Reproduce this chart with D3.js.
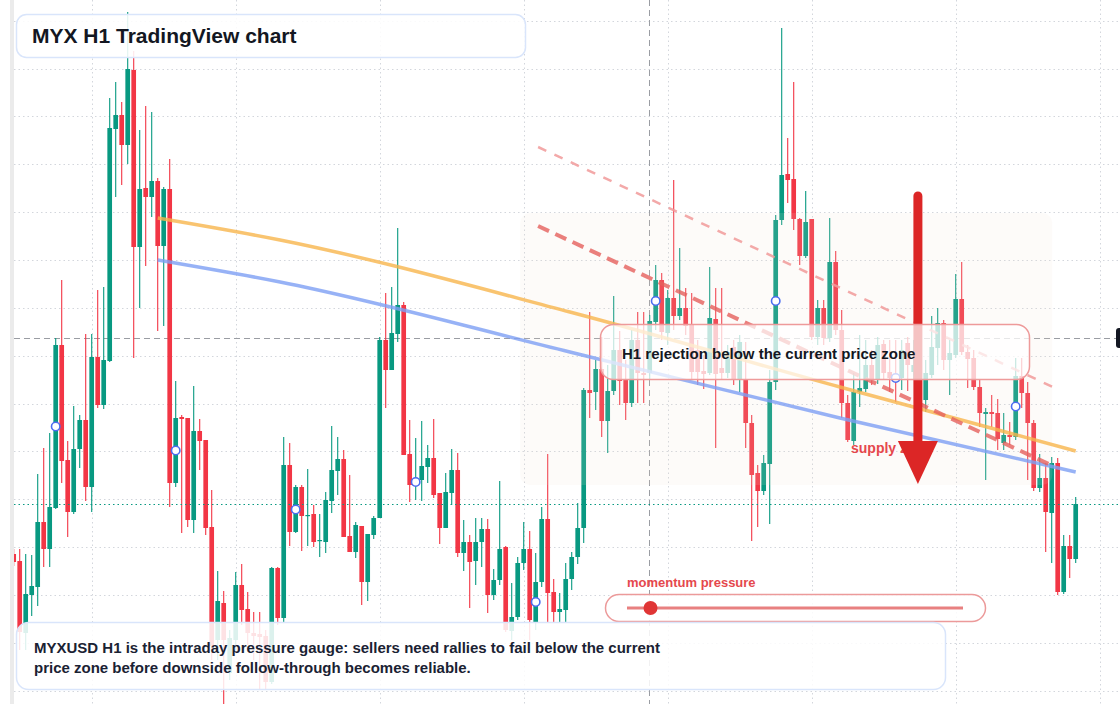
<!DOCTYPE html>
<html>
<head>
<meta charset="utf-8">
<script src="https://cdn.jsdelivr.net/npm/d3@7"></script>
<style>
	html,body{margin:0;padding:0;background:#fff;}
	svg{display:block;font-family:'Liberation Sans',Arial,sans-serif;}
</style>
</head>
<body>
<div class="Chart"></div>
<script>
// MYXUSD hourly candles (index = hour)
const open=[2.437,2.430,2.358,2.396,2.404,2.469,2.442,2.483,2.646,2.531,
2.479,2.542,2.571,2.504,2.634,2.586,2.630,2.862,2.876,2.846,
2.921,2.744,2.803,2.794,2.810,2.745,2.802,2.508,2.574,2.573,
2.471,2.560,2.551,2.464,2.351,2.388,2.318,2.351,2.406,2.382,
2.358,2.357,2.355,2.309,2.423,2.373,2.526,2.459,2.504,2.475,
2.477,2.450,2.449,2.490,2.520,2.532,2.455,2.439,2.465,2.409,
2.456,2.473,2.651,2.621,2.657,2.686,2.537,2.506,2.511,2.524,
2.533,2.498,2.463,2.498,2.521,2.438,2.449,2.430,2.449,2.462,
2.396,2.411,2.444,2.360,2.374,2.428,2.442,2.369,2.409,2.472,
2.399,2.379,2.381,2.412,2.434,2.463,2.601,2.599,2.622,2.570,
2.600,2.641,2.611,2.588,2.651,2.618,2.618,2.669,2.711,2.658,
2.693,2.675,2.683,2.667,2.641,2.620,2.618,2.672,2.623,2.618,
2.644,2.611,2.611,2.568,2.518,2.500,2.527,2.609,2.771,2.817,
2.812,2.772,2.735,2.772,2.654,2.683,2.653,2.729,2.661,2.588,
2.550,2.599,2.602,2.626,2.611,2.647,2.619,2.615,2.613,2.648,
2.619,2.626,2.591,2.616,2.643,2.668,2.631,2.636,2.692,2.639,
2.633,2.604,2.577,2.579,2.578,2.548,2.556,2.554,2.615,2.598,
2.568,2.503,2.513,2.478,2.528,2.399,2.445,2.432]

const high=[2.442,2.442,2.437,2.436,2.517,2.543,2.558,2.653,2.711,2.550,
2.585,2.576,2.657,2.657,2.701,2.704,2.893,2.909,2.889,2.979,
2.940,2.861,2.885,2.879,2.813,2.804,2.832,2.610,2.576,2.573,
2.605,2.572,2.551,2.501,2.420,2.400,2.361,2.419,2.427,2.399,
2.379,2.379,2.361,2.424,2.424,2.554,2.548,2.506,2.506,2.522,
2.486,2.477,2.499,2.565,2.554,2.541,2.516,2.469,2.465,2.457,
2.475,2.654,2.698,2.704,2.763,2.689,2.571,2.553,2.570,2.546,
2.572,2.498,2.518,2.542,2.538,2.471,2.456,2.473,2.473,2.472,
2.422,2.510,2.445,2.408,2.434,2.469,2.460,2.438,2.484,2.537,
2.412,2.398,2.428,2.439,2.488,2.603,2.679,2.631,2.654,2.626,
2.695,2.660,2.631,2.661,2.679,2.679,2.676,2.726,2.718,2.701,
2.811,2.743,2.703,2.698,2.651,2.636,2.724,2.703,2.703,2.646,
2.651,2.656,2.649,2.576,2.526,2.536,2.621,2.776,2.963,2.853,
2.909,2.773,2.800,2.772,2.691,2.691,2.773,2.740,2.681,2.596,
2.618,2.656,2.651,2.641,2.654,2.651,2.651,2.651,2.651,2.654,
2.651,2.636,2.631,2.675,2.683,2.671,2.651,2.717,2.729,2.646,
2.641,2.611,2.583,2.596,2.592,2.578,2.569,2.633,2.633,2.609,
2.571,2.537,2.528,2.534,2.533,2.456,2.456,2.494]

const low=[2.425,2.341,2.341,2.375,2.385,2.424,2.424,2.482,2.508,2.454,
2.477,2.523,2.490,2.479,2.583,2.582,2.629,2.794,2.806,2.827,
2.633,2.683,2.725,2.774,2.660,2.665,2.484,2.504,2.458,2.464,
2.458,2.521,2.456,2.331,2.331,2.287,2.311,2.341,2.366,2.346,
2.331,2.301,2.301,2.307,2.366,2.369,2.445,2.458,2.440,2.445,
2.444,2.434,2.438,2.478,2.496,2.454,2.439,2.433,2.386,2.390,
2.452,2.473,2.583,2.621,2.649,2.536,2.489,2.491,2.490,2.508,
2.493,2.447,2.463,2.486,2.434,2.420,2.383,2.406,2.424,2.378,
2.391,2.406,2.359,2.351,2.371,2.421,2.351,2.361,2.404,2.369,
2.369,2.369,2.369,2.401,2.427,2.448,2.573,2.581,2.554,2.538,
2.596,2.586,2.571,2.584,2.588,2.588,2.611,2.661,2.651,2.646,
2.661,2.671,2.656,2.611,2.606,2.602,2.616,2.543,2.611,2.613,
2.606,2.599,2.543,2.450,2.464,2.496,2.467,2.601,2.766,2.788,
2.761,2.726,2.733,2.651,2.646,2.646,2.649,2.656,2.573,2.549,
2.546,2.584,2.599,2.606,2.607,2.611,2.599,2.589,2.601,2.600,
2.611,2.606,2.579,2.613,2.626,2.621,2.596,2.633,2.636,2.603,
2.601,2.564,2.511,2.564,2.541,2.541,2.546,2.551,2.583,2.511,
2.500,2.499,2.439,2.428,2.396,2.397,2.413,2.428]

const close=[2.429,2.359,2.397,2.405,2.469,2.442,2.484,2.646,2.530,2.479,
2.542,2.571,2.504,2.634,2.586,2.631,2.863,2.876,2.846,2.922,
2.744,2.802,2.794,2.810,2.745,2.802,2.508,2.573,2.572,2.471,
2.560,2.550,2.463,2.345,2.390,2.351,2.353,2.406,2.381,2.358,
2.355,2.354,2.309,2.423,2.373,2.526,2.459,2.504,2.475,2.476,
2.449,2.451,2.491,2.521,2.532,2.454,2.439,2.466,2.409,2.457,
2.473,2.651,2.621,2.658,2.686,2.536,2.506,2.512,2.525,2.533,
2.496,2.463,2.499,2.521,2.438,2.449,2.429,2.449,2.462,2.396,
2.411,2.442,2.361,2.374,2.428,2.442,2.371,2.409,2.472,2.398,
2.379,2.382,2.412,2.434,2.463,2.601,2.598,2.622,2.570,2.600,
2.641,2.610,2.588,2.651,2.618,2.616,2.670,2.711,2.659,2.693,
2.675,2.683,2.665,2.619,2.619,2.617,2.673,2.617,2.618,2.639,
2.611,2.649,2.568,2.516,2.500,2.528,2.609,2.771,2.816,2.811,
2.772,2.735,2.769,2.654,2.683,2.653,2.729,2.661,2.588,2.551,
2.599,2.603,2.626,2.611,2.646,2.618,2.613,2.611,2.641,2.626,
2.626,2.617,2.618,2.644,2.668,2.631,2.638,2.692,2.639,2.632,
2.604,2.578,2.579,2.577,2.552,2.556,2.554,2.615,2.598,2.568,
2.503,2.513,2.479,2.528,2.399,2.445,2.432,2.487]

// grid rows (price) and session columns (candle index)
const gridPrices=[2.970,2.922,2.875,2.827,2.779,2.731,2.683,2.635,2.587,2.540,2.492,2.444,2.396,2.348,2.300]
const dayIdx=[13,37,61,85,109,133,157,181]

// drawings: [candle index, price]
const orangeLine=[[24,2.773],[44.4,2.751],[92.7,2.679],[137.7,2.604],[177,2.540]]
const blueLine=[[24,2.731],[44.4,2.709],[92.7,2.639],[137.7,2.573],[177,2.519]]
const channelUpper=[[87.4,2.844],[173.2,2.604]]
const channelLower=[[87.4,2.765],[173.2,2.525]]
const supplyZone=[84.4,173.1,2.778,2.506]   // i0, i1, top, bottom
const markerIdx=[7,27,47,67,87,107,127,147,167]
const crossIdx=106, crossPrice=2.653
const arrowIdx=150.7, arrowFrom=2.795, arrowTo=2.507
const momentumValue=0.07

const titleText='MYX H1 TradingView chart'
const calloutText='H1 rejection below the current price zone'
const zoneLabel='supply zone'
const gaugeLabel='momentum pressure'
const noteLines=['MYXUSD H1 is the intraday pressure gauge: sellers need rallies to fail below the current',
	'price zone before downside follow-through becomes reliable.']

const width=1120, height=704
const up='#089981', down='#f23645'

let svg=d3.select('.Chart').append('svg')
	.attr('width',width)
	.attr('height',height)

let xScale=d3.scaleLinear()
	.domain([0,177])
	.range([13.7,1075.7])

let yScale=d3.scaleLinear()
	.domain([2.287,2.991])
	.range([height,0])

svg.append('defs').append('clipPath')
	.attr('id','plotClip')
	.append('rect')
	.attr('x',14).attr('y',0)
	.attr('width',width-14).attr('height',height)

// left edge strip
svg.append('rect')
	.attr('x',10).attr('y',0)
	.attr('width',4).attr('height',height)
	.attr('fill','#ebebeb')

let plot=svg.append('g').attr('clip-path','url(#plotClip)')

// grid
plot.selectAll('.hgrid')
	.data(gridPrices)
	.enter().append('line')
	.attr('class','hgrid')
	.attr('x1',14).attr('x2',width)
	.attr('y1',d=>Math.round(yScale(d))+0.5)
	.attr('y2',d=>Math.round(yScale(d))+0.5)
	.attr('stroke','#d3d6dc')
	.attr('stroke-dasharray','1.5,3')

plot.selectAll('.vgrid')
	.data(dayIdx)
	.enter().append('line')
	.attr('class','vgrid')
	.attr('x1',d=>Math.round(xScale(d))+0.5)
	.attr('x2',d=>Math.round(xScale(d))+0.5)
	.attr('y1',0).attr('y2',height)
	.attr('stroke','#d3d6dc')
	.attr('stroke-dasharray','1.5,3')

// crosshair
plot.append('line')
	.attr('x1',Math.round(xScale(crossIdx))-0.5).attr('x2',Math.round(xScale(crossIdx))-0.5)
	.attr('y1',0).attr('y2',height)
	.attr('stroke','#9a9da3')
	.attr('stroke-dasharray','6,4')
plot.append('line')
	.attr('x1',14).attr('x2',1116)
	.attr('y1',Math.round(yScale(crossPrice))+0.5).attr('y2',Math.round(yScale(crossPrice))+0.5)
	.attr('stroke','#9a9da3')
	.attr('stroke-dasharray','6,4')

// candles
const candles=d3.range(open.length).map(i=>({i:i,o:open[i],h:high[i],l:low[i],c:close[i]}))
const step=xScale(1)-xScale(0)
const bodyW=step*0.78

let cg=plot.append('g')
cg.selectAll('.wick')
	.data(candles)
	.enter().append('line')
	.attr('class','wick')
	.attr('x1',d=>xScale(d.i)).attr('x2',d=>xScale(d.i))
	.attr('y1',d=>yScale(d.h)).attr('y2',d=>yScale(d.l))
	.attr('stroke',d=>d.c>=d.o?up:down)
	.attr('stroke-width',1.1)

cg.selectAll('.body')
	.data(candles)
	.enter().append('rect')
	.attr('class','body')
	.attr('x',d=>xScale(d.i)-bodyW/2)
	.attr('width',bodyW)
	.attr('y',d=>yScale(Math.max(d.o,d.c)))
	.attr('height',d=>Math.max(1.2,Math.abs(yScale(d.o)-yScale(d.c))))
	.attr('fill',d=>d.c>=d.o?up:down)

// supply zone overlay
plot.append('rect')
	.attr('x',xScale(supplyZone[0]))
	.attr('y',yScale(supplyZone[2]))
	.attr('width',xScale(supplyZone[1])-xScale(supplyZone[0]))
	.attr('height',yScale(supplyZone[3])-yScale(supplyZone[2]))
	.attr('rx',10)
	.attr('fill','#f3e2cf')
	.attr('opacity',0.13)

// trend lines
const line=d3.line()
	.x(d=>xScale(d[0]))
	.y(d=>yScale(d[1]))
	.curve(d3.curveMonotoneX)

plot.append('path')
	.attr('d',line(orangeLine))
	.attr('fill','none')
	.attr('stroke','#f8b54c')
	.attr('stroke-width',3.5)
	.attr('opacity',0.8)

plot.append('path')
	.attr('d',line(blueLine))
	.attr('fill','none')
	.attr('stroke','#7d9ff4')
	.attr('stroke-width',3.5)
	.attr('opacity',0.8)

plot.append('path')
	.attr('d',line(channelUpper))
	.attr('fill','none')
	.attr('stroke','#f19a9a')
	.attr('stroke-width',2.5)
	.attr('stroke-dasharray','9,9')
	.attr('opacity',0.85)

plot.append('path')
	.attr('d',line(channelLower))
	.attr('fill','none')
	.attr('stroke','#e5605d')
	.attr('stroke-width',4)
	.attr('stroke-dasharray','12,7')
	.attr('opacity',0.8)

// last price line
plot.append('line')
	.attr('x1',14).attr('x2',width)
	.attr('y1',Math.round(yScale(close[close.length-1]))+0.5)
	.attr('y2',Math.round(yScale(close[close.length-1]))+0.5)
	.attr('stroke',up)
	.attr('stroke-dasharray','1.5,3')

// markers every 20 bars
plot.selectAll('.mark')
	.data(markerIdx)
	.enter().append('circle')
	.attr('class','mark')
	.attr('cx',d=>xScale(d))
	.attr('cy',d=>yScale((open[d]+close[d])/2))
	.attr('r',4.2)
	.attr('fill','#fff')
	.attr('stroke','#4a6cf0')
	.attr('stroke-width',1.6)

// supply zone label + arrow
svg.append('text')
	.attr('x',851).attr('y',453)
	.attr('font-size',14).attr('font-weight',700)
	.attr('fill','#e5484d')
	.text(zoneLabel)

const ax=xScale(arrowIdx)
svg.append('line')
	.attr('x1',ax).attr('x2',ax)
	.attr('y1',yScale(arrowFrom)).attr('y2',yScale(arrowTo)-40)
	.attr('stroke','#dc2626')
	.attr('stroke-width',9)
	.attr('stroke-linecap','round')
svg.append('path')
	.attr('d',`M${ax-20},${yScale(arrowTo)-43}L${ax+20},${yScale(arrowTo)-43}L${ax},${yScale(arrowTo)}Z`)
	.attr('fill','#dc2626')

// right price label (clipped by the window)
svg.append('rect')
	.attr('x',1116).attr('y',yScale(crossPrice)-10)
	.attr('width',40).attr('height',20).attr('rx',3)
	.attr('fill','#131722')

// callout box
svg.append('rect')
	.attr('x',600.5).attr('y',324.5)
	.attr('width',429).attr('height',55).attr('rx',13)
	.attr('fill','#fff').attr('fill-opacity',0.72)
	.attr('stroke','#ee9a9a').attr('stroke-width',1.5)
svg.append('text')
	.attr('x',622).attr('y',359)
	.attr('font-size',15).attr('font-weight',700)
	.attr('fill','#131722')
	.text(calloutText)

// title
svg.append('rect')
	.attr('x',16.5).attr('y',14.5)
	.attr('width',509).attr('height',43).attr('rx',10)
	.attr('fill','#fff').attr('fill-opacity',0.88)
	.attr('stroke','#d9e5fb').attr('stroke-width',1.5)
svg.append('text')
	.attr('x',32).attr('y',43)
	.attr('font-size',21).attr('font-weight',700)
	.attr('fill','#131722')
	.text(titleText)

// momentum gauge
const gx=d3.scaleLinear().domain([0,1]).range([627,963])
svg.append('text')
	.attr('x',627).attr('y',587)
	.attr('font-size',13).attr('font-weight',700)
	.attr('fill','#e5484d')
	.text(gaugeLabel)
svg.append('rect')
	.attr('x',605.5).attr('y',594.5)
	.attr('width',380).attr('height',27).attr('rx',13.5)
	.attr('fill','#fff').attr('fill-opacity',0.85)
	.attr('stroke','#ec9a9a').attr('stroke-width',1.5)
svg.append('line')
	.attr('x1',gx(0)).attr('x2',gx(1))
	.attr('y1',608).attr('y2',608)
	.attr('stroke','#e88080').attr('stroke-width',3)
svg.append('circle')
	.attr('cx',gx(momentumValue)).attr('cy',608).attr('r',7)
	.attr('fill','#e03535')

// bottom note
svg.append('rect')
	.attr('x',16.5).attr('y',622.5)
	.attr('width',929).attr('height',67).attr('rx',12)
	.attr('fill','#fff').attr('fill-opacity',0.86)
	.attr('stroke','#d9e5fb').attr('stroke-width',1.5)
svg.selectAll('.note')
	.data(noteLines)
	.enter().append('text')
	.attr('class','note')
	.attr('x',34)
	.attr('y',(d,k)=>653+k*20)
	.attr('font-size',15).attr('font-weight',700)
	.attr('fill','#1a2233')
	.text(d=>d)
</script>
</body>
</html>
